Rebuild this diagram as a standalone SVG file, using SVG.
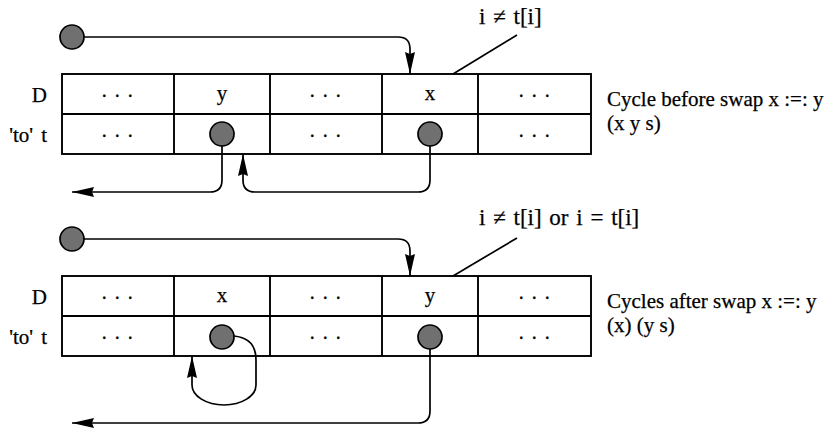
<svg xmlns="http://www.w3.org/2000/svg" width="829" height="430" viewBox="0 0 829 430">
<style>
text{font-family:"Liberation Serif","Times New Roman",serif;fill:#000;font-size:21px;stroke:#000;stroke-width:0.25}
.cell{fill:#fff;stroke:#000;stroke-width:1.9}
.mid{text-anchor:middle}
.dots{text-anchor:middle;font-size:20px;letter-spacing:1.5px}
.lbl{text-anchor:end}
.ann{font-size:23px;word-spacing:2px}
.ptr{fill:#707070;stroke:#000;stroke-width:1.7}
.conn{fill:none;stroke:#000;stroke-width:1.7}
.lead{stroke:#000;stroke-width:1.7}
</style>
<defs>
<marker id="arr" markerUnits="userSpaceOnUse" markerWidth="24" markerHeight="12" refX="22" refY="5" orient="auto">
<path d="M0,0 L22,5 L0,10 L2,5 z" fill="#000"/>
</marker>
</defs>

<g id="table-top">
<rect class="cell" x="62" y="74" width="529" height="80"/>
<line class="cell" x1="62" y1="114" x2="591" y2="114"/>
<line class="cell" x1="174" y1="74" x2="174" y2="154"/>
<line class="cell" x1="270" y1="74" x2="270" y2="154"/>
<line class="cell" x1="382" y1="74" x2="382" y2="154"/>
<line class="cell" x1="478" y1="74" x2="478" y2="154"/>
<text class="lbl" x="47" y="102">D</text>
<text class="lbl" x="47" y="142">'to'<tspan dx="8">t</tspan></text>
<text class="dots" x="118" y="97">. . .</text>
<text class="mid" x="222" y="100">y</text>
<text class="dots" x="326" y="97">. . .</text>
<text class="mid" x="430" y="100">x</text>
<text class="dots" x="535" y="97">. . .</text>
<text class="dots" x="118" y="137">. . .</text>
<text class="dots" x="326" y="137">. . .</text>
<text class="dots" x="535" y="137">. . .</text>
</g>

<g id="table-bottom">
<rect class="cell" x="62" y="276" width="529" height="80"/>
<line class="cell" x1="62" y1="316" x2="591" y2="316"/>
<line class="cell" x1="174" y1="276" x2="174" y2="356"/>
<line class="cell" x1="270" y1="276" x2="270" y2="356"/>
<line class="cell" x1="382" y1="276" x2="382" y2="356"/>
<line class="cell" x1="478" y1="276" x2="478" y2="356"/>
<text class="lbl" x="47" y="304">D</text>
<text class="lbl" x="47" y="344">'to'<tspan dx="8">t</tspan></text>
<text class="dots" x="118" y="299">. . .</text>
<text class="mid" x="222" y="302">x</text>
<text class="dots" x="326" y="299">. . .</text>
<text class="mid" x="430" y="302">y</text>
<text class="dots" x="535" y="299">. . .</text>
<text class="dots" x="118" y="339">. . .</text>
<text class="dots" x="326" y="339">. . .</text>
<text class="dots" x="535" y="339">. . .</text>
</g>

<g id="connectors">
<path class="conn" d="M84,37 H398 Q410,37 410,49 V74" marker-end="url(#arr)"/>
<path class="conn" d="M222,146 V180 Q222,192 210,192 H72" marker-end="url(#arr)"/>
<path class="conn" d="M430,146 V180 Q430,192 418,192 H255 Q243,192 243,180 V154" marker-end="url(#arr)"/>
<line class="lead" x1="453" y1="74" x2="517" y2="35"/>
<path class="conn" d="M84,239 H398 Q410,239 410,251 V276" marker-end="url(#arr)"/>
<path class="conn" d="M234,336 Q256,338 256,360 V385 A32,20 0 0 1 192,385 V356" marker-end="url(#arr)"/>
<path class="conn" d="M430,349 V411 Q430,423 418,423 H72" marker-end="url(#arr)"/>
<line class="lead" x1="453" y1="276" x2="517" y2="238"/>
</g>

<g id="pointer-start-top"><circle class="ptr" cx="72" cy="37" r="12"/></g>
<g id="pointer-y-top"><circle class="ptr" cx="222" cy="134" r="12"/></g>
<g id="pointer-x-top"><circle class="ptr" cx="430" cy="134" r="12"/></g>
<g id="pointer-start-bottom"><circle class="ptr" cx="72" cy="239" r="12"/></g>
<g id="pointer-x-bottom"><circle class="ptr" cx="222" cy="337" r="12"/></g>
<g id="pointer-y-bottom"><circle class="ptr" cx="430" cy="337" r="12"/></g>

<g id="annotations">
<text class="ann" x="479" y="24">i ≠ t[i]</text>
<text x="607" y="106">Cycle before swap x :=: y</text>
<text x="607" y="130">(x y s)</text>
<text class="ann" x="479" y="225">i ≠ t[i] or i = t[i]</text>
<text x="607" y="308">Cycles after swap x :=: y</text>
<text x="607" y="332">(x) (y s)</text>
</g>
</svg>
